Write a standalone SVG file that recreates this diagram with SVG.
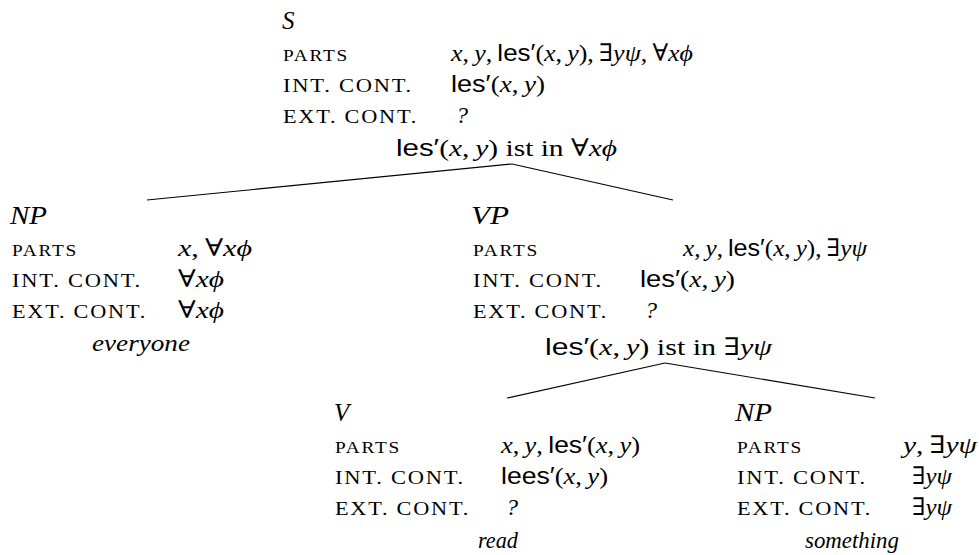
<svg xmlns="http://www.w3.org/2000/svg" width="979" height="555" viewBox="0 0 979 555">
<style>
text { fill: #000; font-family: "Liberation Serif", "DejaVu Serif", serif; }
.cat { font-size: 25px; font-style: italic; }
.lbl { font-size: 19px; letter-spacing: 1.5px; }
.sc { font-size: 16px; letter-spacing: 1.5px; }
.val { font-size: 24px; }
.i { font-style: italic; }
.sf { font-family: "Liberation Sans", "DejaVu Sans", sans-serif; font-style: normal; }
.word { font-size: 23px; font-style: italic; }
.edge { stroke: #000; stroke-width: 1.2; fill: none; }
</style>
<rect width="979" height="555" fill="#fff"/>
<g id="connectors">
<line class="edge" x1="512" y1="164" x2="147" y2="200"/>
<line class="edge" x1="512" y1="164" x2="673" y2="200"/>
<line class="edge" x1="665" y1="363" x2="507" y2="398"/>
<line class="edge" x1="665" y1="363" x2="875" y2="398"/>
</g>
<g id="node-S">
<text class="cat" x="282" y="29">S</text>
<text class="lbl sc" x="283" y="61" textLength="66" lengthAdjust="spacingAndGlyphs">PARTS</text>
<text class="lbl" x="283" y="92" textLength="130" lengthAdjust="spacingAndGlyphs">INT. CONT.</text>
<text class="lbl" x="283" y="123" textLength="135" lengthAdjust="spacingAndGlyphs">EXT. CONT.</text>
<text class="val" x="451" y="61" textLength="242" lengthAdjust="spacingAndGlyphs"><tspan class="i">x</tspan>,&#8201;<tspan class="i">y</tspan>,&#8201;<tspan class="sf">les′</tspan>(<tspan class="i">x</tspan>,&#8201;<tspan class="i">y</tspan>),&#8201;∃<tspan class="i">yψ</tspan>,&#8201;∀<tspan class="i">xϕ</tspan></text>
<text class="val" x="451" y="92" textLength="94" lengthAdjust="spacingAndGlyphs"><tspan class="sf">les′</tspan>(<tspan class="i">x</tspan>,&#8201;<tspan class="i">y</tspan>)</text>
<text class="val i" x="456" y="123">?</text>
<text class="val" x="396" y="156" textLength="221" lengthAdjust="spacingAndGlyphs"><tspan class="sf">les′</tspan>(<tspan class="i">x</tspan>,&#8201;<tspan class="i">y</tspan>) ist in ∀<tspan class="i">xϕ</tspan></text>
</g>
<g id="node-NP-everyone">
<text class="cat" x="10" y="224" textLength="37" lengthAdjust="spacingAndGlyphs">NP</text>
<text class="lbl sc" x="12" y="256" textLength="66" lengthAdjust="spacingAndGlyphs">PARTS</text>
<text class="lbl" x="12" y="287" textLength="130" lengthAdjust="spacingAndGlyphs">INT. CONT.</text>
<text class="lbl" x="12" y="318" textLength="135" lengthAdjust="spacingAndGlyphs">EXT. CONT.</text>
<text class="val" x="178" y="256" textLength="74" lengthAdjust="spacingAndGlyphs"><tspan class="i">x</tspan>,&#8201;∀<tspan class="i">xϕ</tspan></text>
<text class="val" x="178" y="287" textLength="46" lengthAdjust="spacingAndGlyphs">∀<tspan class="i">xϕ</tspan></text>
<text class="val" x="178" y="318" textLength="46" lengthAdjust="spacingAndGlyphs">∀<tspan class="i">xϕ</tspan></text>
<text class="word" x="141" y="351" text-anchor="middle" textLength="98" lengthAdjust="spacingAndGlyphs">everyone</text>
</g>
<g id="node-VP">
<text class="cat" x="471" y="224" textLength="38" lengthAdjust="spacingAndGlyphs">VP</text>
<text class="lbl sc" x="473" y="256" textLength="66" lengthAdjust="spacingAndGlyphs">PARTS</text>
<text class="lbl" x="473" y="287" textLength="130" lengthAdjust="spacingAndGlyphs">INT. CONT.</text>
<text class="lbl" x="473" y="318" textLength="135" lengthAdjust="spacingAndGlyphs">EXT. CONT.</text>
<text class="val" x="683" y="256" textLength="184" lengthAdjust="spacingAndGlyphs"><tspan class="i">x</tspan>,&#8201;<tspan class="i">y</tspan>,&#8201;<tspan class="sf">les′</tspan>(<tspan class="i">x</tspan>,&#8201;<tspan class="i">y</tspan>),&#8201;∃<tspan class="i">yψ</tspan></text>
<text class="val" x="640" y="287" textLength="95" lengthAdjust="spacingAndGlyphs"><tspan class="sf">les′</tspan>(<tspan class="i">x</tspan>,&#8201;<tspan class="i">y</tspan>)</text>
<text class="val i" x="645" y="318">?</text>
<text class="val" x="545" y="355" textLength="227" lengthAdjust="spacingAndGlyphs"><tspan class="sf">les′</tspan>(<tspan class="i">x</tspan>,&#8201;<tspan class="i">y</tspan>) ist in ∃<tspan class="i">yψ</tspan></text>
</g>
<g id="node-V">
<text class="cat" x="334" y="421">V</text>
<text class="lbl sc" x="335" y="453" textLength="66" lengthAdjust="spacingAndGlyphs">PARTS</text>
<text class="lbl" x="335" y="484" textLength="130" lengthAdjust="spacingAndGlyphs">INT. CONT.</text>
<text class="lbl" x="335" y="515" textLength="135" lengthAdjust="spacingAndGlyphs">EXT. CONT.</text>
<text class="val" x="501" y="453" textLength="139" lengthAdjust="spacingAndGlyphs"><tspan class="i">x</tspan>,&#8201;<tspan class="i">y</tspan>,&#8201;<tspan class="sf">les′</tspan>(<tspan class="i">x</tspan>,&#8201;<tspan class="i">y</tspan>)</text>
<text class="val" x="501" y="484" textLength="107" lengthAdjust="spacingAndGlyphs"><tspan class="sf">lees′</tspan>(<tspan class="i">x</tspan>,&#8201;<tspan class="i">y</tspan>)</text>
<text class="val i" x="506" y="515">?</text>
<text class="word" x="498" y="548" text-anchor="middle" textLength="40" lengthAdjust="spacingAndGlyphs">read</text>
</g>
<g id="node-NP-something">
<text class="cat" x="735" y="421" textLength="37" lengthAdjust="spacingAndGlyphs">NP</text>
<text class="lbl sc" x="737" y="453" textLength="66" lengthAdjust="spacingAndGlyphs">PARTS</text>
<text class="lbl" x="737" y="484" textLength="130" lengthAdjust="spacingAndGlyphs">INT. CONT.</text>
<text class="lbl" x="737" y="515" textLength="135" lengthAdjust="spacingAndGlyphs">EXT. CONT.</text>
<text class="val" x="903" y="453" textLength="74" lengthAdjust="spacingAndGlyphs"><tspan class="i">y</tspan>,&#8201;∃<tspan class="i">yψ</tspan></text>
<text class="val" x="912" y="484" textLength="40" lengthAdjust="spacingAndGlyphs">∃<tspan class="i">yψ</tspan></text>
<text class="val" x="912" y="515" textLength="40" lengthAdjust="spacingAndGlyphs">∃<tspan class="i">yψ</tspan></text>
<text class="word" x="852" y="548" text-anchor="middle" textLength="94" lengthAdjust="spacingAndGlyphs">something</text>
</g>
</svg>
